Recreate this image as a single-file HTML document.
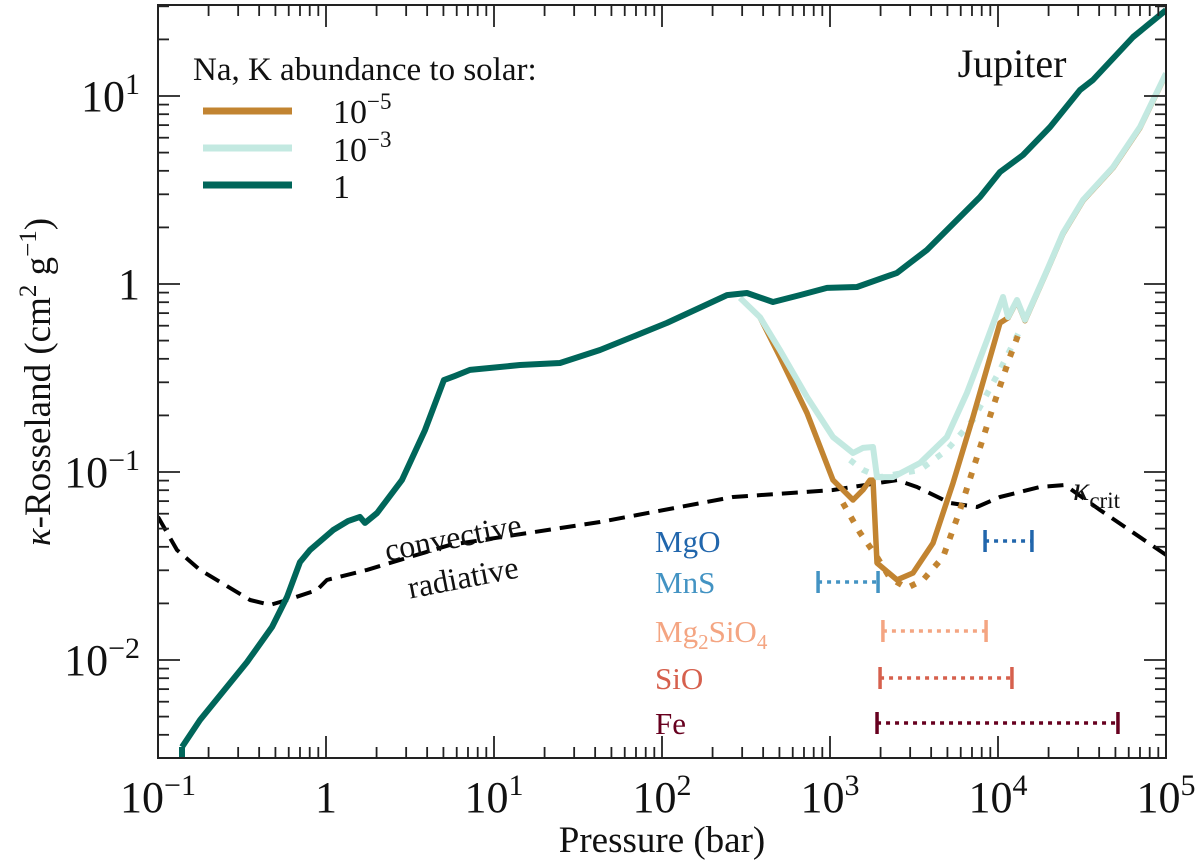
<!DOCTYPE html>
<html><head><meta charset="utf-8">
<style>
html,body{margin:0;padding:0;background:#fff;}
svg, svg text{font-family:"Liberation Serif","Times New Roman","Nimbus Roman","DejaVu Serif",serif;}
</style></head>
<body>
<svg id="chart" width="1200" height="863" viewBox="0 0 1200 863" font-family="Liberation Serif, serif"></svg>
<script>
// data arrays: log10(P/bar), log10(kappa)
const solarLogP = [-0.857,-0.75,-0.47,-0.321,-0.232,-0.155,-0.095,0.042,0.131,0.202,0.232,0.304,0.452,0.589,0.702,0.768,0.857,1.155,1.393,1.631,2.03,2.286,2.387,2.506,2.661,2.821,2.982,3.161,3.399,3.476,3.577,3.893,4.012,4.149,4.31,4.488,4.565,4.804,5.0];
const solarLogK = [-2.463,-2.319,-2.011,-1.824,-1.665,-1.479,-1.415,-1.309,-1.261,-1.239,-1.271,-1.218,-1.043,-0.777,-0.511,-0.489,-0.457,-0.431,-0.42,-0.351,-0.207,-0.101,-0.059,-0.048,-0.096,-0.059,-0.021,-0.016,0.059,0.112,0.181,0.463,0.596,0.686,0.835,1.032,1.085,1.314,1.457];
const e3LogP = [2.464,2.583,2.702,2.863,3.018,3.137,3.196,3.256,3.28,3.375,3.536,3.696,3.815,3.935,4.03,4.06,4.113,4.161,4.292,4.387,4.506,4.685,4.845,5.0];
const e3LogK = [-0.074,-0.176,-0.351,-0.601,-0.814,-0.899,-0.872,-0.867,-1.027,-1.027,-0.952,-0.814,-0.58,-0.298,-0.069,-0.176,-0.085,-0.191,0.074,0.271,0.447,0.622,0.835,1.12];
const e5LogP = [2.583,2.702,2.863,3.018,3.137,3.196,3.238,3.256,3.28,3.399,3.494,3.613,3.732,3.851,4.012,4.06,4.113,4.161,4.292,4.387,4.506,4.685,4.845,5.0];
const e5LogK = [-0.176,-0.388,-0.686,-1.043,-1.149,-1.096,-1.043,-1.043,-1.484,-1.574,-1.537,-1.378,-1.059,-0.707,-0.207,-0.18,-0.09,-0.195,0.07,0.267,0.443,0.618,0.831,1.116];
const e5DotLogP = [3.077,3.179,3.28,3.357,3.458,3.554,3.673,3.774,3.875,3.97,4.071,4.131];
const e5DotLogK = [-1.165,-1.324,-1.452,-1.564,-1.617,-1.574,-1.452,-1.202,-0.92,-0.654,-0.388,-0.245];
const e3DotLogP = [3.119,3.196,3.298,3.536,3.696,3.851,4.012,4.131];
const e3DotLogK = [-0.936,-0.989,-1.027,-0.989,-0.883,-0.723,-0.457,-0.245];
const critLogP = [-1.0,-0.887,-0.75,-0.452,-0.333,-0.232,-0.054,0.006,0.244,0.738,1.631,2.423,3.018,3.399,3.518,3.714,3.875,4.012,4.25,4.399,4.607,5.0];
const critLogK = [-1.239,-1.415,-1.521,-1.681,-1.707,-1.681,-1.628,-1.574,-1.521,-1.388,-1.266,-1.133,-1.096,-1.043,-1.08,-1.165,-1.186,-1.133,-1.08,-1.069,-1.202,-1.441];
const condNames = ["MgO","MnS","Mg2SiO4","SiO","Fe"];
const condStart = [3.923,2.929,3.315,3.298,3.28];
const condEnd = [4.202,3.286,3.929,4.083,4.714];
const xTickLabels = ["10<tspan dy='-17' font-size='30'>−1</tspan>","1","10<tspan dy='-17' font-size='30'>1</tspan>","10<tspan dy='-17' font-size='30'>2</tspan>","10<tspan dy='-17' font-size='30'>3</tspan>","10<tspan dy='-17' font-size='30'>4</tspan>","10<tspan dy='-17' font-size='30'>5</tspan>"];
const xTickVals = [-1,0,1,2,3,4,5];
const yTickVals = [-2,-1,0,1];
const yTickLabels = ["10<tspan dy='-17' font-size='30'>−2</tspan>","10<tspan dy='-17' font-size='30'>−1</tspan>","1","10<tspan dy='-17' font-size='30'>1</tspan>"];

const L=158,R=1166,T=5,B=758;
const X=v=>L+(v+1)*(R-L)/6;
const Y=v=>284-v*188;
const svg=document.getElementById('chart');
const NS='http://www.w3.org/2000/svg';
function mk(tag,attrs,parent){const e=document.createElementNS(NS,tag);for(const k in attrs)e.setAttribute(k,attrs[k]);(parent||svg).appendChild(e);return e;}
const clip=mk('clipPath',{id:'pc'});mk('rect',{x:L,y:T,width:R-L,height:B-T},clip);
const plot=mk('g',{'clip-path':'url(#pc)'});


function line(xs,ys,style,name){
  const d=xs.map((v,i)=>(i?'L':'M')+X(v).toFixed(1)+','+Y(ys[i]).toFixed(1)).join(' ');
  const p=mk('path',Object.assign({d:d,fill:'none','stroke-linejoin':'round'},style),plot);
  
  
}
line(critLogP,critLogK,{stroke:'#000','stroke-width':4,'stroke-dasharray':'16,9'},'kappa-crit-line');
line(e3DotLogP,e3DotLogK,{stroke:'#c3e9e1','stroke-width':6,'stroke-dasharray':'6,10'},'series-1e-3-dotted');
line(e5DotLogP,e5DotLogK,{stroke:'#c28431','stroke-width':6,'stroke-dasharray':'6,10'},'series-1e-5-dotted');
line(e5LogP,e5LogK,{stroke:'#c28431','stroke-width':5.5},'series-1e-5');
line(e3LogP.slice(0,4),e3LogK.slice(0,4),{stroke:'#c3e9e1','stroke-width':6},'series-1e-3-upper');
line(e3LogP.slice(3),e3LogK.slice(3),{stroke:'#c3e9e1','stroke-width':6},'series-1e-3');
line(solarLogP,solarLogK,{stroke:'#00665a','stroke-width':6},'series-solar');
line([solarLogP[0],solarLogP[0]],[solarLogK[0],-2.6],{stroke:'#00665a','stroke-width':6},'series-solar-start');

// condensation bars
const condColors=['#2166ac','#4393c3','#f4a582','#d6604d','#67001f'];
const condY=[541,582,631,678,723];
condNames.forEach((n,i)=>{
  const g=mk('g',{});
  
  
  const x1=X(condStart[i]),x2=X(condEnd[i]),y=condY[i],c=condColors[i];
  mk('line',{x1:x1,x2:x2,y1:y,y2:y,stroke:c,'stroke-width':3.5,'stroke-dasharray':'4,5'},g);
  mk('line',{x1:x1,x2:x1,y1:y-11,y2:y+11,stroke:c,'stroke-width':3.5},g);
  mk('line',{x1:x2,x2:x2,y1:y-11,y2:y+11,stroke:c,'stroke-width':3.5},g);
  const t=mk('text',{x:655,y:y+11,fill:c,'font-size':31,'font-family':'Liberation Serif, serif'},g);
  t.innerHTML = n==='Mg2SiO4' ? "Mg<tspan font-size='21' dy='7'>2</tspan><tspan dy='-7'>SiO</tspan><tspan font-size='21' dy='7'>4</tspan>" : n;
});

// axes frame
const fr=mk('rect',{x:L,y:T,width:R-L,height:B-T,fill:'none',stroke:'#222','stroke-width':2});


const ticks=mk('g',{stroke:'#222','stroke-width':1.8});


for(let d=-1;d<=5;d++){for(let m=1;m<10;m++){const v=d+Math.log10(m);if(v>5)break;const x=X(v),len=m===1?22:11;
  mk('line',{x1:x,x2:x,y1:B,y2:B-len},ticks);mk('line',{x1:x,x2:x,y1:T,y2:T+len},ticks);}}
for(let d=-3;d<=1;d++){for(let m=1;m<10;m++){const v=d+Math.log10(m);const y=Y(v);if(y<T||y>B)continue;const len=m===1?22:11;
  mk('line',{x1:L,x2:L+len,y1:y,y2:y},ticks);mk('line',{x1:R,x2:R-len,y1:y,y2:y},ticks);}}
xTickVals.forEach((v,i)=>{const t=mk('text',{x:X(v),y:812,'font-size':44,'text-anchor':'middle',fill:'#111','font-family':'Liberation Serif, serif'});t.innerHTML=xTickLabels[i];
  
  });
yTickVals.forEach((v,i)=>{const t=mk('text',{x:140,y:Y(v)+15,'font-size':44,'text-anchor':'end',fill:'#111','font-family':'Liberation Serif, serif'});t.innerHTML=yTickLabels[i];
  
  });
</script>
<svg width="1200" height="863" font-family="Liberation Serif, serif" style="position:absolute;left:0;top:0;">
  <text x="662" y="852" font-size="37" text-anchor="middle" fill="#111">Pressure (bar)</text>
  <text transform="translate(50,382) rotate(-90)" font-size="37" text-anchor="middle" fill="#111"><tspan font-style="italic">κ</tspan>-Rosseland (cm<tspan font-size="25" dy="-14">2</tspan><tspan dy="14"> g</tspan><tspan font-size="25" dy="-14">−1</tspan><tspan dy="14">)</tspan></text>
  <text x="193" y="80" font-size="33" fill="#111">Na, K abundance to solar:</text>
  <g>
    <line x1="203" x2="292" y1="111" y2="111" stroke="#c28431" stroke-width="7"/>
    <text x="333" y="123" font-size="34" fill="#111">10<tspan font-size="23" dy="-14">−5</tspan></text>
    <line x1="203" x2="292" y1="148" y2="148" stroke="#c3e9e1" stroke-width="7"/>
    <text x="333" y="161" font-size="34" fill="#111">10<tspan font-size="23" dy="-14">−3</tspan></text>
    <line x1="203" x2="292" y1="185" y2="185" stroke="#00665a" stroke-width="7"/>
    <text x="333" y="198" font-size="34" fill="#111">1</text>
  </g>
  <text x="1012" y="77" font-size="40" text-anchor="middle" fill="#111">Jupiter</text>
  <text transform="translate(455,548) rotate(-11)" font-size="32" text-anchor="middle" fill="#111">convective</text>
  <text transform="translate(465,588) rotate(-11)" font-size="32" text-anchor="middle" fill="#111">radiative</text>
  <text x="1073" y="500" font-size="34" fill="#111"><tspan font-style="italic">κ</tspan><tspan font-size="23" dy="8">crit</tspan></text>
</svg>
</body></html>
